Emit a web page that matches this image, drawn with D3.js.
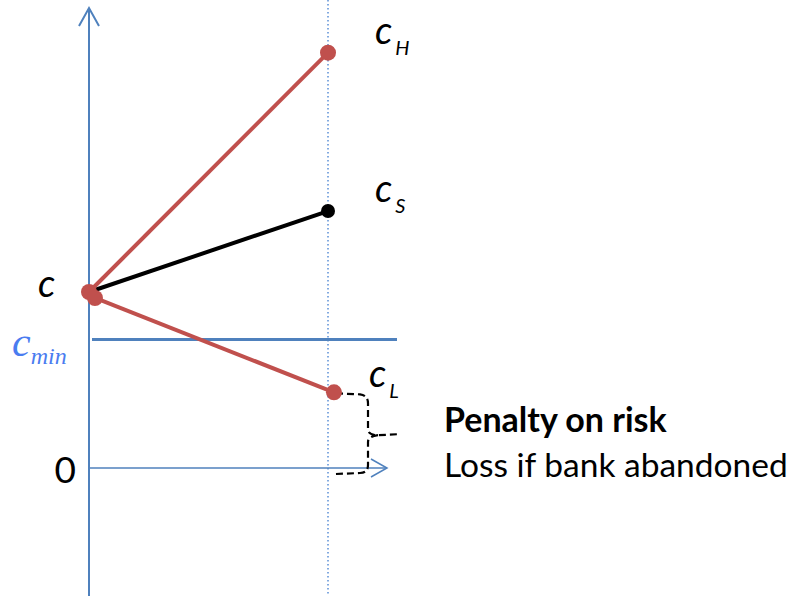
<!DOCTYPE html>
<html>
<head>
<meta charset="utf-8">
<script src="https://cdn.jsdelivr.net/npm/d3@7/dist/d3.min.js"></script>
<style>
  body { margin: 0; background: #fff; }
  #chart { width: 801px; height: 596px; }
  text { font-family: Lato, "Open Sans", sans-serif; }
</style>
</head>
<body>
<div id="chart"></div>
<script>
// consumption levels (arbitrary units, 0 = x-axis)
const cStart = 100;
const safePath = [{t: 0, v: cStart}, {t: 1, v: 146}];
const highPath = [{t: 0, v: cStart}, {t: 1, v: 236}];
const lowPath = [{t: 0.025, v: 96.6}, {t: 1.025, v: 43}];
const cMin = 73;
const yTicks = [0];
const pointLabels = [
    {base: "c", sub: "H", t: 1, v: 236},
    {base: "c", sub: "S", t: 1, v: 146},
    {base: "c", sub: "L", t: 1, v: 43}
];
const noteLines = ["Penalty on risk", "Loss if bank abandoned"];

function renderDiagram(selector) {
    const width = 801, height = 596;
    const svg = d3.select(selector).append("svg")
        .attr("width", width)
        .attr("height", height);

    const x = d3.scaleLinear().domain([0, 1]).range([89, 328]);
    const y = d3.scaleLinear().domain([0, 100]).range([468, 292]);

    const red = "#c0504d", blue = "#4f81bd";

    // dotted period-1 line
    svg.append("line")
        .attr("x1", x(1)).attr("x2", x(1))
        .attr("y1", 0).attr("y2", height)
        .attr("stroke", "#5b8fd6")
        .attr("stroke-width", 1.5)
        .attr("stroke-dasharray", "1.5,2.5");

    // y axis with arrow
    const yTop = 8;
    svg.append("line")
        .attr("x1", x(0)).attr("x2", x(0))
        .attr("y1", yTop).attr("y2", height)
        .attr("stroke", blue).attr("stroke-width", 2);
    svg.append("path")
        .attr("d", `M${x(0) - 10},${yTop + 18}L${x(0)},${yTop}L${x(0) + 10},${yTop + 18}`)
        .attr("fill", "none").attr("stroke", blue).attr("stroke-width", 2);

    // x axis with arrow
    const xEnd = 387;
    svg.append("line")
        .attr("x1", x(0)).attr("x2", xEnd)
        .attr("y1", y(0)).attr("y2", y(0))
        .attr("stroke", blue).attr("stroke-width", 1.5);
    svg.append("path")
        .attr("d", `M${xEnd - 16},${y(0) - 9}L${xEnd},${y(0)}L${xEnd - 16},${y(0) + 9}`)
        .attr("fill", "none").attr("stroke", blue).attr("stroke-width", 1.5);

    // "0" tick label
    const yAxis = svg.append("g")
        .attr("transform", `translate(${x(0)},0)`)
        .call(d3.axisLeft(y).tickValues(yTicks).tickSize(0).tickPadding(13).tickFormat(d3.format("d")));
    yAxis.select(".domain").remove();
    yAxis.selectAll("text")
        .style("font-family", "Lato, sans-serif")
        .style("font-size", "37px")
        .attr("dy", "0.4em")
        .attr("fill", "#000");

    // c_min line
    svg.append("line")
        .attr("x1", 92).attr("x2", 397)
        .attr("y1", y(cMin)).attr("y2", y(cMin))
        .attr("stroke", blue).attr("stroke-width", 3);

    const line = d3.line().x(d => x(d.t)).y(d => y(d.v));

    // dashed brace from c_L down to 0
    const bx = 368, tipX = 399;
    const top = y(lowPath[1].v) + 1, bot = y(0) + 5, mid = (top + bot) / 2 + 2;
    svg.append("path")
        .attr("d", `M${x(lowPath[1].t) + 2},${top} L${bx - 8},${top + 1} Q${bx},${top + 2} ${bx},${top + 10}
            L${bx},${mid - 6} Q${bx},${mid} ${bx + 10},${mid} L${tipX},${mid - 1}
            M${bx + 10},${mid} Q${bx},${mid + 1} ${bx},${mid + 7}
            L${bx},${bot - 8} Q${bx},${bot} ${bx - 8},${bot} L${x(lowPath[1].t) + 2},${bot + 1}`)
        .attr("fill", "none").attr("stroke", "#000")
        .attr("stroke-width", 2.2).attr("stroke-dasharray", "7,4");

    // paths
    svg.append("path").datum(safePath).attr("d", line)
        .attr("fill", "none").attr("stroke", "#000").attr("stroke-width", 4);
    svg.append("path").datum(highPath).attr("d", line)
        .attr("fill", "none").attr("stroke", red).attr("stroke-width", 4);
    svg.append("path").datum(lowPath).attr("d", line)
        .attr("fill", "none").attr("stroke", red).attr("stroke-width", 4);

    svg.append("circle").attr("cx", x(safePath[1].t)).attr("cy", y(safePath[1].v))
        .attr("r", 7).attr("fill", "#000");
    svg.selectAll(".red-dot")
        .data([highPath[0], highPath[1], lowPath[0], lowPath[1]])
        .enter().append("circle")
        .attr("class", "red-dot")
        .attr("cx", d => x(d.t)).attr("cy", d => y(d.v))
        .attr("r", 8).attr("fill", red);

    // c label at start
    svg.append("text")
        .attr("x", 38).attr("y", y(cStart) + 5)
        .style("font-size", "38px").style("font-style", "italic")
        .text("c");

    // subscripted labels
    const labelPos = {H: [375, -9], S: [375, -9], L: [369, -5]};
    pointLabels.forEach(p => {
        const [lx, dy] = labelPos[p.sub];
        const t = svg.append("text")
            .attr("x", lx).attr("y", y(p.v) + dy)
            .style("font-size", "38px").style("font-style", "italic");
        t.append("tspan").text(p.base);
        t.append("tspan").attr("dy", 11).attr("dx", 3)
            .style("font-size", "20px").text(p.sub);
    });

    // c_min label
    const cm = svg.append("text")
        .attr("x", 12).attr("y", y(cMin) + 16)
        .attr("fill", "#4a7cf0")
        .style("font-family", "'Liberation Serif', 'DejaVu Serif', serif")
        .style("font-style", "italic")
        .style("font-size", "42px");
    cm.append("tspan").text("c");
    cm.append("tspan").attr("dy", 8).style("font-size", "24px").text("min");

    // note text
    svg.append("text")
        .attr("x", 444).attr("y", 432)
        .style("font-size", "34px").style("font-weight", "bold")
        .text(noteLines[0]);
    svg.append("text")
        .attr("x", 444).attr("y", 477)
        .style("font-size", "33.5px")
        .text(noteLines[1]);
}

renderDiagram("#chart");
</script>
</body>
</html>
